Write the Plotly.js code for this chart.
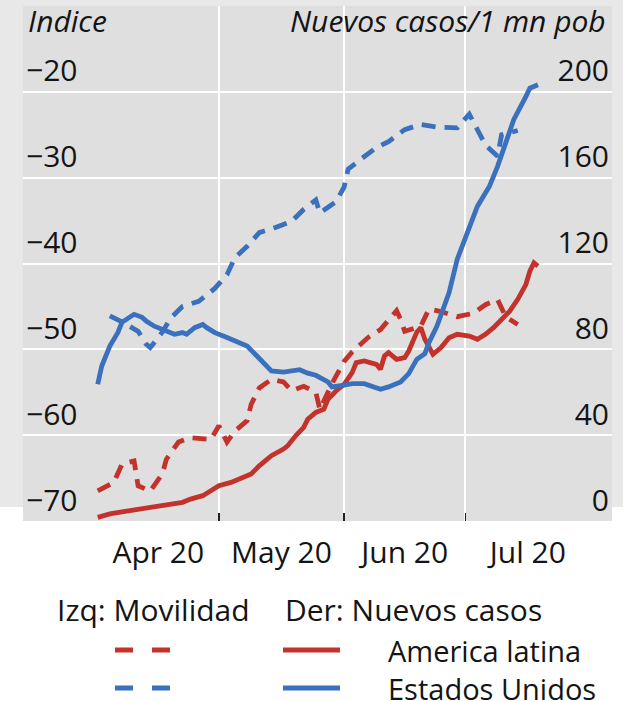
<!DOCTYPE html>
<html>
<head>
<meta charset="utf-8">
<script src="https://cdn.plot.ly/plotly-3.0.1.min.js"></script>
<style>html,body{margin:0;padding:0;background:#fff;}#chart{width:623px;height:701px;}</style>
</head>
<body>
<div id="chart"></div>
<script>
// ---- Data ----
// Left axis: mobility index (dashed)
const latMobDates = ['2020-04-01','2020-04-05','2020-04-07','2020-04-10','2020-04-11','2020-04-14','2020-04-17','2020-04-18','2020-04-21','2020-04-24','2020-04-29','2020-05-01','2020-05-03','2020-05-05','2020-05-08','2020-05-09','2020-05-11','2020-05-14','2020-05-17','2020-05-19','2020-05-22','2020-05-25','2020-05-26','2020-05-29','2020-06-01','2020-06-03','2020-06-07','2020-06-10','2020-06-14','2020-06-15','2020-06-16','2020-06-20','2020-06-22','2020-06-25','2020-06-29','2020-07-03','2020-07-06','2020-07-09','2020-07-11','2020-07-14'];
const latMobVals = [-66.5,-65.5,-63.4,-63.0,-65.9,-66.5,-64.5,-62.8,-60.8,-60.3,-60.5,-58.9,-60.8,-59.5,-58.3,-56.4,-54.5,-53.5,-53.8,-54.8,-54.3,-55.0,-57.0,-54.0,-51.4,-50.3,-48.6,-47.7,-45.5,-46.5,-47.9,-47.3,-45.3,-45.6,-46.2,-45.8,-44.8,-44.2,-46.2,-47.1];

const usMobDates = ['2020-04-04','2020-04-07','2020-04-11','2020-04-13','2020-04-14','2020-04-17','2020-04-19','2020-04-22','2020-04-26','2020-04-30','2020-05-03','2020-05-05','2020-05-08','2020-05-11','2020-05-15','2020-05-19','2020-05-22','2020-05-25','2020-05-26','2020-05-30','2020-06-01','2020-06-02','2020-06-05','2020-06-09','2020-06-12','2020-06-16','2020-06-20','2020-06-24','2020-06-29','2020-07-02','2020-07-04','2020-07-06','2020-07-09','2020-07-10','2020-07-14'];
const usMobVals = [-46.1,-46.8,-47.9,-49.4,-49.8,-48.0,-46.4,-45.0,-44.4,-42.9,-41.3,-39.3,-38.0,-36.4,-35.8,-35.1,-33.7,-32.6,-34.1,-32.8,-31.1,-29.0,-27.9,-26.5,-25.8,-24.4,-23.8,-24.1,-24.2,-22.6,-24.4,-26.2,-27.5,-25.0,-24.5];

// Right axis: new cases per 1 mn population (solid)
const latCaseDates = ['2020-04-01','2020-04-04','2020-04-07','2020-04-11','2020-04-14','2020-04-17','2020-04-19','2020-04-22','2020-04-24','2020-04-27','2020-04-29','2020-05-01','2020-05-04','2020-05-06','2020-05-09','2020-05-11','2020-05-13','2020-05-14','2020-05-17','2020-05-18','2020-05-20','2020-05-22','2020-05-23','2020-05-25','2020-05-27','2020-05-28','2020-05-30','2020-06-01','2020-06-03','2020-06-04','2020-06-06','2020-06-08','2020-06-09','2020-06-10','2020-06-11','2020-06-12','2020-06-14','2020-06-16','2020-06-17','2020-06-19','2020-06-20','2020-06-21','2020-06-23','2020-06-25','2020-06-27','2020-06-29','2020-07-02','2020-07-04','2020-07-06','2020-07-08','2020-07-10','2020-07-12','2020-07-14','2020-07-16','2020-07-17','2020-07-18','2020-07-19'];
const latCaseVals = [1.7,3.3,4.3,5.6,6.4,7.1,7.9,8.7,10.2,11.8,14.1,16.4,18.0,19.5,21.9,25.7,28.4,30.4,33.5,35.0,39.7,43.6,47.4,50.6,52.1,56.7,60.6,63.7,69.1,73.8,74.6,73.8,73.0,70.7,76.9,78.5,75.3,76.1,79.2,88.0,90.2,84.7,77.7,80.8,85.4,87.0,86.2,84.7,87.0,90.1,94.1,97.8,103.3,110.2,116.4,120.3,118.8];

const usCaseDates = ['2020-04-01','2020-04-02','2020-04-04','2020-04-06','2020-04-07','2020-04-09','2020-04-10','2020-04-12','2020-04-13','2020-04-15','2020-04-17','2020-04-18','2020-04-20','2020-04-22','2020-04-23','2020-04-25','2020-04-27','2020-04-28','2020-04-30','2020-05-03','2020-05-05','2020-05-08','2020-05-10','2020-05-13','2020-05-14','2020-05-17','2020-05-19','2020-05-21','2020-05-23','2020-05-25','2020-05-28','2020-05-29','2020-06-01','2020-06-03','2020-06-06','2020-06-08','2020-06-10','2020-06-12','2020-06-15','2020-06-17','2020-06-19','2020-06-21','2020-06-22','2020-06-24','2020-06-27','2020-06-29','2020-07-02','2020-07-04','2020-07-07','2020-07-09','2020-07-11','2020-07-13','2020-07-16','2020-07-17','2020-07-19'];
const usCaseVals = [63.7,72.2,81.5,87.9,92.6,95.5,96.3,94.9,93.2,90.8,89.3,88.5,87.0,87.8,87.0,90.1,91.6,90.1,87.8,85.5,83.9,81.5,77.7,72.2,69.9,69.4,70.2,70.5,68.9,67.9,64.8,62.5,63.3,64.0,64.0,62.5,61.4,62.5,64.8,68.7,75.3,78.0,83.1,90.8,106.4,121.9,137.3,146.6,156.0,165.3,176.1,187.0,197.8,201.7,203.3];

// Axes / labels
const xRange = ['2020-03-13 12:00','2020-08-06 08:00'];
const monthStarts = ['2020-05-01','2020-06-01','2020-07-01'];
const monthMids = ['2020-04-16','2020-05-16 12:00','2020-06-16','2020-07-16 12:00'];
const monthLabels = ['Apr 20','May 20','Jun 20','Jul 20'];
const leftTicks = [-70,-60,-50,-40,-30,-20];
const rightTicks = [0,40,80,120,160,200];
const leftRange = [-70,-10];
const rightRange = [0,240];

const RED = '#c3332c';
const BLUE = '#3b70bd';
const TXT = '#141414';
const FONT = 'Open Sans, Noto Sans, sans-serif';
const FS = 30;

// layout geometry
const W = 623, H = 701;
const M = {l:23, r:11, t:6, b:180};
const pw = W - M.l - M.r, ph = H - M.t - M.b;
const px = x => (x - M.l) / pw;
const py = y => (H - M.b - y) / ph;

const traces = [
  {x: latMobDates, y: latMobVals, yaxis:'y', mode:'lines', line:{color:RED, width:4.8, dash:'14px,9px'}, hoverinfo:'skip'},
  {x: usMobDates, y: usMobVals, yaxis:'y', mode:'lines', line:{color:BLUE, width:4.8, dash:'14px,9px'}, hoverinfo:'skip'},
  {x: latCaseDates, y: latCaseVals, yaxis:'y2', mode:'lines', line:{color:RED, width:4.8}, hoverinfo:'skip'},
  {x: usCaseDates, y: usCaseVals, yaxis:'y2', mode:'lines', line:{color:BLUE, width:4.8}, hoverinfo:'skip'}
];

function legLine(x0, x1, y, color, dash) {
  return {type:'line', xref:'paper', yref:'paper', x0:px(x0), x1:px(x1), y0:py(y), y1:py(y),
          line:{color:color, width:5, dash:dash || 'solid'}};
}
function txt(text, x, y, anchor, italic, size) {
  return {text:text, xref:'paper', yref:'paper', x:px(x), y:py(y), xanchor:anchor, yanchor:'middle',
          showarrow:false, borderpad:0, font:{family:FONT, size:size || FS, color:TXT, style: italic ? 'italic' : 'normal'}};
}

const layout = {
  width: W, height: H,
  margin: M,
  paper_bgcolor: '#ffffff',
  plot_bgcolor: 'rgba(0,0,0,0)',
  showlegend: false,
  font: {family: FONT, size: FS, color: TXT},
  xaxis: {
    type:'date', range: xRange,
    tickmode:'array', tickvals: monthMids, ticktext: monthLabels,
    ticks:'outside', ticklen:5, tickcolor:'rgba(0,0,0,0)', showgrid:false, zeroline:false, showline:false,
    tickfont:{family:FONT, size:FS, color:TXT},
    minor: {tickmode:'array', tickvals: monthStarts, ticks:'inside', ticklen:8, tickwidth:1.5, tickcolor:'#222',
            showgrid:true, gridcolor:'#ffffff', gridwidth:2}
  },
  yaxis: {
    range: leftRange, tickmode:'array', tickvals: leftTicks,
    ticklabelposition:'inside top', ticks:'', showgrid:true, gridcolor:'#ffffff', gridwidth:2,
    zeroline:false, showline:false, tickfont:{family:FONT, size:FS, color:TXT}
  },
  yaxis2: {
    range: rightRange, overlaying:'y', side:'right', tickmode:'array', tickvals: rightTicks,
    ticklabelposition:'inside top', ticks:'', showgrid:false, zeroline:false, showline:false,
    tickfont:{family:FONT, size:FS, color:TXT}
  },
  shapes: [
    {type:'rect', xref:'paper', yref:'paper', x0:-0.1, x1:1.1, y0:py(507), y1:py(-5), fillcolor:'#e8e8e8', line:{width:0}, layer:'below'},
    {type:'rect', xref:'paper', yref:'paper', x0:0, x1:1, y0:0, y1:1, fillcolor:'#dfdfdf', line:{width:0}, layer:'below'},
    legLine(115, 172, 650, RED, '18px,19px'),
    legLine(283, 340, 650, RED),
    legLine(115, 172, 688, BLUE, '18px,19px'),
    legLine(283, 340, 688, BLUE)
  ],
  annotations: [
    txt('Indice', 27, 20, 'left', true),
    txt('Nuevos casos/1 mn pob', 607, 20, 'right', true),
    txt('Izq: Movilidad', 56, 609, 'left'),
    txt('Der: Nuevos casos', 284, 609, 'left'),
    txt('America latina', 387, 650, 'left', false, 29),
    txt('Estados Unidos', 387, 688, 'left', false, 29)
  ]
};

Plotly.newPlot('chart', traces, layout, {displayModeBar:false, staticPlot:true});
</script>
</body>
</html>
